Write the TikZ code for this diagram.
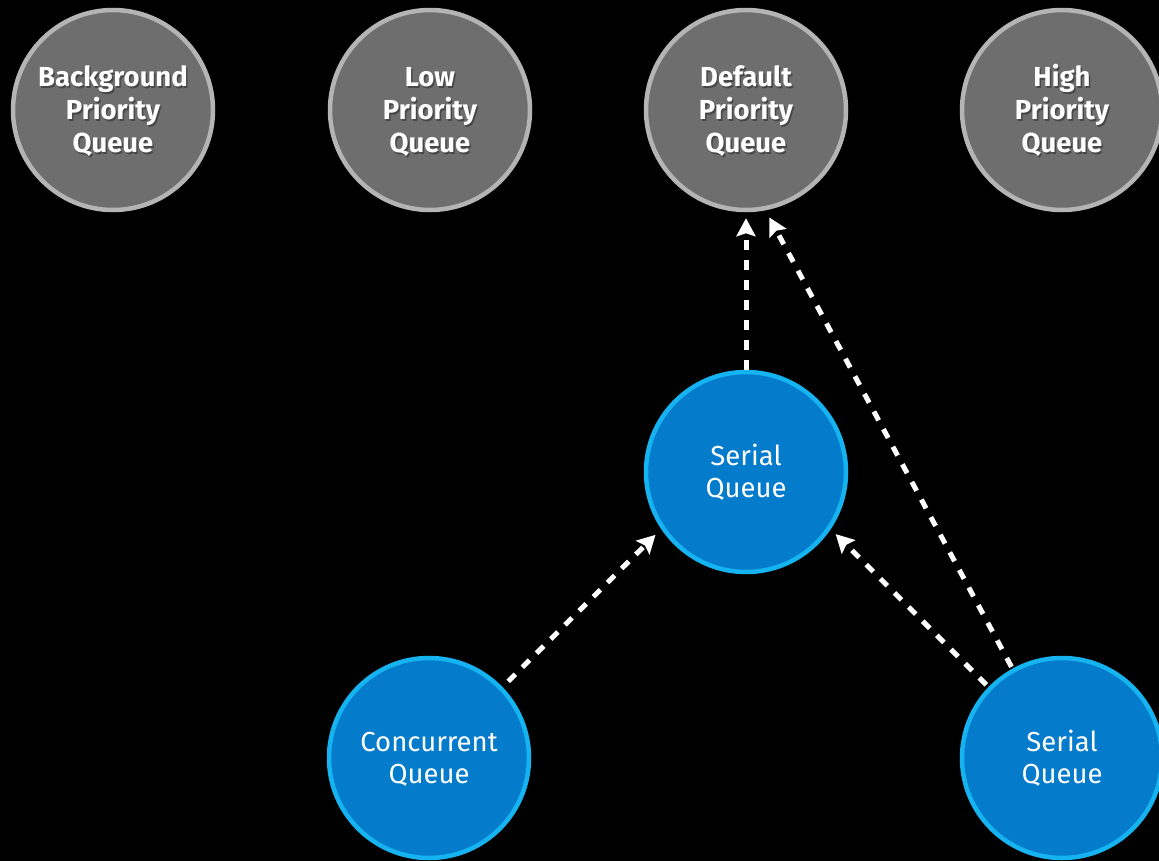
\documentclass[tikz,border=0pt]{standalone}
\usepackage{fontspec}
\setmainfont{Fira Sans}
\usetikzlibrary{arrows.meta}
\definecolor{qgrayfill}{HTML}{6E6E6E}
\definecolor{qgrayline}{HTML}{B4B4B4}
\definecolor{qbluefill}{HTML}{047BCB}
\definecolor{qblueline}{HTML}{15B4F1}
\tikzset{
  queue/.style={circle, minimum size=200pt, inner sep=0pt, line width=4.5pt,
    align=center, text=white, font=\fontsize{27.5}{32.5}\selectfont},
  globalq/.style={queue, draw=qgrayline, fill=qgrayfill},
  userq/.style={queue, draw=qblueline, fill=qbluefill},
  caption/.style={align=center, inner sep=0pt, text=white},
  label text/.style={caption, font=\fontsize{27.5}{33}\selectfont\bfseries},
  shade text/.style={label text, text=black, text opacity=0.35},
  target/.style={draw=white, line width=5pt, dash pattern=on 10pt off 10pt,
    -{Stealth[length=18pt,width=19pt,inset=3pt]}}
}
\begin{document}
\begin{tikzpicture}[x=1pt,y=-1pt]
\fill[black] (0,0) rectangle (1159,861);
\useasboundingbox (0,0) rectangle (1159,861);

% global priority queues
\node[globalq] (bg)   at (113,110)  {};
\node[globalq] (low)  at (430,110)  {};
\node[globalq] (def)  at (746,110)  {};
\node[globalq] (high) at (1062,110) {};
% soft shadow under the labels, then the labels
\foreach \n/\t in {bg/Background, low/Low, def/Default, high/High}{
  \node[shade text] at ([shift={(1.5pt,-5pt)}]\n.center) {\strut\t\\Priority\\Queue\strut};
  \node[label text] at ([shift={(0pt,-3pt)}]\n.center) {\strut\t\\Priority\\Queue\strut};
}

% user-created queues
\node[userq] (ser)  at (746,472)  {};
\node[userq] (conc) at (429,758)  {};
\node[userq] (ser2) at (1062,758) {};
\foreach \n/\t in {ser/Serial, conc/Concurrent, ser2/Serial}{
  \node[caption, font=\fontsize{27.5}{32.5}\selectfont] at ([shift={(0pt,-3pt)}]\n.center) {\strut\t\\Queue\strut};
}

% target queue relations
\draw[target, shorten >=6pt] (ser.north) -- (def.south);
\draw[target, shorten <=2pt, shorten >=8pt] (ser2.119) -- (def.-79);
\draw[target, shorten <=8pt, shorten >=8pt] (conc.44) -- (ser.214);
\draw[target, shorten <=3pt, shorten >=7pt] (ser2.136) -- (ser.-34);
\end{tikzpicture}
\end{document}
